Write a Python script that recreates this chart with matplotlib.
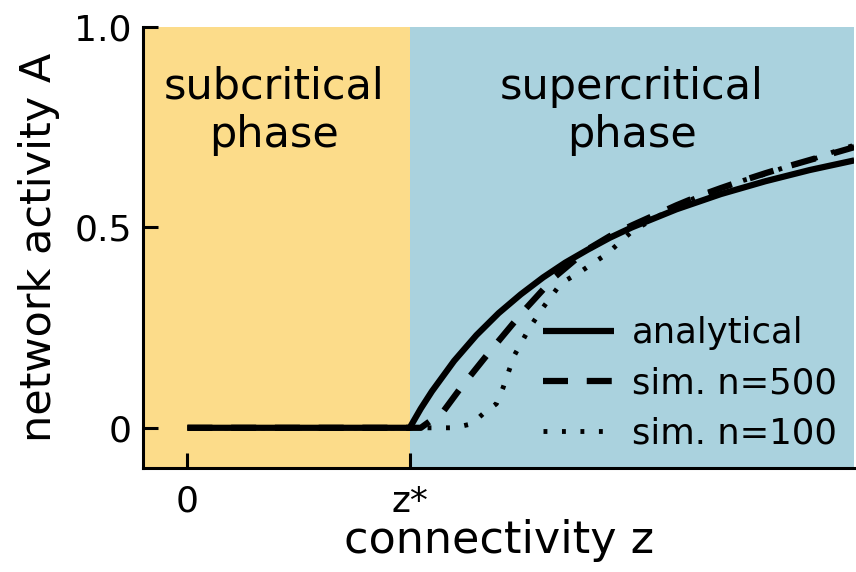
import numpy as np
import matplotlib
matplotlib.use('Agg')
import matplotlib.pyplot as plt

# values (z in units of z*)
z_ana = [0, 1.0, 1.05, 1.1, 1.2, 1.3, 1.4, 1.5, 1.6, 1.7, 1.8, 1.9, 2.0, 2.2, 2.4, 2.6, 2.8, 3.0]
A_ana = [0, 0, 0.048, 0.091, 0.167, 0.231, 0.286, 0.333, 0.375, 0.412, 0.444, 0.474, 0.50,
         0.545, 0.583, 0.615, 0.643, 0.667]

z_500 = [0, 1.0, 1.05, 1.15, 1.23, 1.36, 1.51, 1.65, 1.8, 1.9, 2.0, 2.1, 2.2, 2.3, 2.4,
         2.5, 2.6, 2.7, 2.8, 2.9, 3.0]
A_500 = [0, 0, 0.0, 0.04, 0.10, 0.19, 0.29, 0.375, 0.445, 0.478, 0.505, 0.53, 0.555, 0.578,
         0.598, 0.617, 0.635, 0.652, 0.668, 0.684, 0.70]

z_100 = [0, 1.0, 1.1, 1.2, 1.28, 1.33, 1.39, 1.42, 1.47, 1.54, 1.60, 1.68, 1.77, 1.89,
         2.0, 2.1, 2.2, 2.3, 2.4, 2.5, 2.6, 2.7, 2.8, 2.9, 3.0]
A_100 = [0, 0, 0.0, 0.0, 0.01, 0.035, 0.06, 0.10, 0.18, 0.25, 0.30, 0.36, 0.39, 0.435,
         0.49, 0.522, 0.553, 0.577, 0.597, 0.617, 0.633, 0.652, 0.667, 0.687, 0.705]

z_crit = 1.0
xticks = [0, 1.0]
xticklabels = ['0', 'z*']
yticks = [0, 0.5, 1.0]
yticklabels = ['0', '0.5', '1.0']

fig = plt.figure(figsize=(8.56, 5.72), dpi=100)
ax = fig.add_axes([0.167, 0.182, 0.831, 0.771])

ax.axvspan(-0.2, z_crit, color='#FCDC8A', lw=0, zorder=0)
ax.axvspan(z_crit, 3.0, color='#AAD2DE', lw=0, zorder=0)

lw = 4.5
ax.plot(z_ana, A_ana, color='black', lw=lw, solid_capstyle='butt', label='analytical', zorder=3)
ax.plot(z_500, A_500, color='black', lw=lw, dashes=(4.0, 3.0), label='sim. n=500', zorder=2)
ax.plot(z_100, A_100, color='black', lw=3.5, dashes=(0.8, 3.0), label='sim. n=100', zorder=2)

ax.text(0.39, 0.79, 'subcritical\nphase', ha='center', va='center', fontsize=31)
ax.text(2.0, 0.79, 'supercritical\nphase', ha='center', va='center', fontsize=31)

ax.set_xlim(-0.2, 3.0)
ax.set_ylim(-0.1, 1.0)
ax.set_xticks(xticks)
ax.set_xticklabels(xticklabels)
ax.set_yticks(yticks)
ax.set_yticklabels(yticklabels)
ax.tick_params(direction='in', length=11, width=2.2, labelsize=26)
ax.tick_params(axis='x', pad=12)
ax.tick_params(axis='y', pad=8)
for s in ['top', 'right']:
    ax.spines[s].set_visible(False)
for s in ['left', 'bottom']:
    ax.spines[s].set_linewidth(2.2)

ax.set_xlabel('connectivity z', fontsize=32, labelpad=0)
ax.set_ylabel('network activity A', fontsize=31, labelpad=10)

ax.legend(loc='lower right', bbox_to_anchor=(1.0, 0.0), frameon=False, fontsize=25.5,
          handlelength=2.0, handletextpad=0.5, labelspacing=0.45, borderaxespad=0.1)

fig.savefig('out.png', dpi=100)
